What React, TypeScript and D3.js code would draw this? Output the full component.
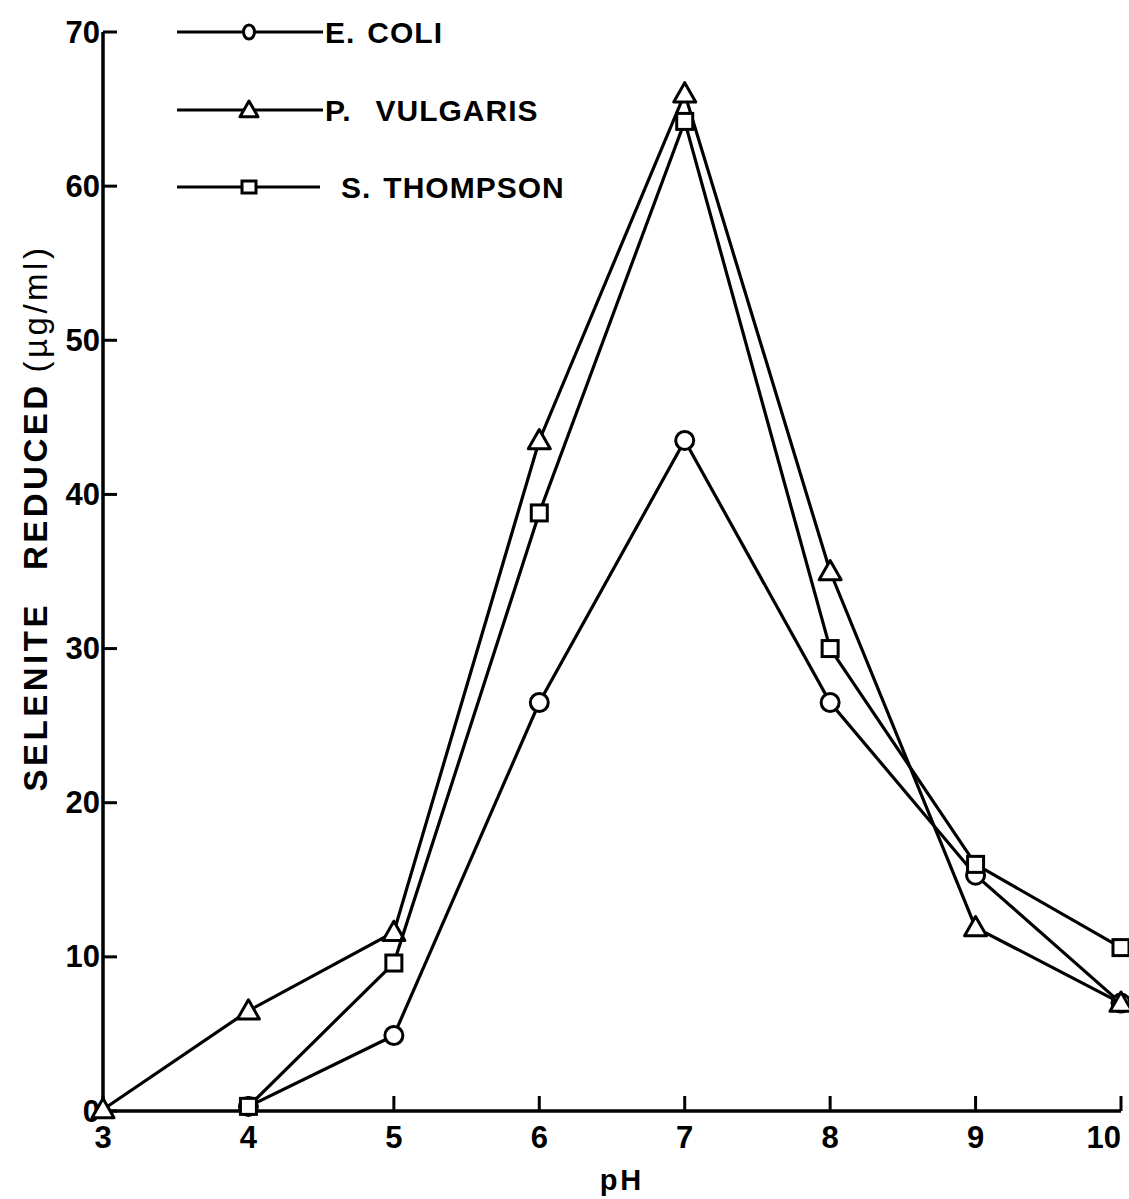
import React from "react";
import * as d3 from "d3";

const phEColi = [4, 5, 6, 7, 8, 9, 10];
const eColi = [0.3, 4.9, 26.5, 43.5, 26.5, 15.3, 7.0];
const phPVulgaris = [3, 4, 5, 6, 7, 8, 9, 10];
const pVulgaris = [0.1, 6.5, 11.6, 43.5, 66.0, 35.0, 11.9, 7.0];
const phSThompson = [4, 5, 6, 7, 8, 9, 10];
const sThompson = [0.3, 9.6, 38.8, 64.2, 30.0, 16.0, 10.6];
const xTicks = [3, 4, 5, 6, 7, 8, 9, 10];
const yTicks = [0, 10, 20, 30, 40, 50, 60, 70];
const seriesNames = [["E.", "COLI"], ["P.", "VULGARIS"], ["S.", "THOMPSON"]];

const W = 1129;
const H = 1199;
const FONT = "'Liberation Sans', Arial, sans-serif";

function Marker({ kind, x, y, small }: { kind: string; x: number; y: number; small?: boolean }) {
  const sw = 3;
  if (kind === "circle") {
    return small ? (
      <ellipse cx={x} cy={y} rx={5.5} ry={7} fill="white" stroke="black" strokeWidth={sw} />
    ) : (
      <circle cx={x} cy={y} r={9} fill="white" stroke="black" strokeWidth={sw} />
    );
  }
  if (kind === "triangle") {
    const s = small ? 9 : 11;
    const pts = `${x},${y - s} ${x - s},${y + s * 0.75} ${x + s},${y + s * 0.75}`;
    return <polygon points={pts} fill="white" stroke="black" strokeWidth={sw} strokeLinejoin="round" />;
  }
  const hw = small ? 7 : 8;
  const hh = small ? 6 : 8;
  return <rect x={x - hw} y={y - hh} width={hw * 2} height={hh * 2} fill="white" stroke="black" strokeWidth={sw} />;
}

export default function App() {
  const x = d3.scaleLinear().domain([3, 10]).range([103, 1121]);
  const y = d3.scaleLinear().domain([0, 70]).range([1111, 32]);
  const line = d3
    .line<[number, number]>()
    .x((d) => x(d[0]))
    .y((d) => y(d[1]));

  const series = [
    { kind: "circle", xs: phEColi, ys: eColi },
    { kind: "triangle", xs: phPVulgaris, ys: pVulgaris },
    { kind: "square", xs: phSThompson, ys: sThompson },
  ];

  const legendRows = [32, 110, 187];
  const legendTextX = [325, 325, 341];
  const legendWordGap = [12, 24, 12];
  const legendLineEnd = [323, 323, 320];

  return (
    <svg
      width={W}
      height={H}
      style={{ position: "absolute", left: 0, top: 0, background: "white" }}
      fontFamily={FONT}
    >
      <rect x={0} y={0} width={W} height={H} fill="white" />
      {/* axes */}
      <line x1={x(3)} y1={y(70)} x2={x(3)} y2={y(0)} stroke="black" strokeWidth={3.5} />
      <line x1={x(3)} y1={y(0)} x2={x(10)} y2={y(0)} stroke="black" strokeWidth={3.5} />
      {yTicks.map((t) => (
        <g key={"y" + t}>
          <line x1={x(3)} x2={x(3) + 14} y1={y(t)} y2={y(t)} stroke="black" strokeWidth={3} />
          <text
            x={x(3) - 3}
            y={y(t)}
            textAnchor="end"
            dominantBaseline="central"
            fontSize={31}
            fontWeight="bold"
          >
            {t}
          </text>
        </g>
      ))}
      {xTicks.map((t, i) => (
        <g key={"x" + t}>
          <line x1={x(t)} x2={x(t)} y1={y(0)} y2={y(0) - 15} stroke="black" strokeWidth={3} />
          <text
            x={x(t)}
            y={1148}
            textAnchor={i === xTicks.length - 1 ? "end" : "middle"}
            fontSize={31}
            fontWeight="bold"
          >
            {t}
          </text>
        </g>
      ))}
      <text x={622} y={1190} textAnchor="middle" fontSize={29} fontWeight="bold" letterSpacing={3}>
        pH
      </text>
      <text
        transform={`translate(47, 518) rotate(-90)`}
        textAnchor="middle"
        fontSize={33}
        fontWeight="bold"
        letterSpacing={3.5}
      >
        <tspan>SELENITE</tspan>
        <tspan dx={32}>REDUCED</tspan>
        <tspan dx={10} fontWeight="normal">
          (µg/ml)
        </tspan>
      </text>
      {/* series */}
      {series.map((s, i) => {
        const pts = s.xs.map((v, j) => [v, s.ys[j]] as [number, number]);
        return (
          <g key={"s" + i}>
            <path d={line(pts) || ""} fill="none" stroke="black" strokeWidth={3.2} />
            {pts.map((p, j) => (
              <Marker key={j} kind={s.kind} x={x(p[0])} y={y(p[1])} />
            ))}
          </g>
        );
      })}
      {/* legend */}
      {series.map((s, i) => (
        <g key={"l" + i}>
          <line x1={177} x2={legendLineEnd[i]} y1={legendRows[i]} y2={legendRows[i]} stroke="black" strokeWidth={3} />
          <Marker kind={s.kind} x={249} y={legendRows[i]} small />
          <text
            x={legendTextX[i]}
            y={legendRows[i]}
            dominantBaseline="central"
            fontSize={30}
            fontWeight="bold"
            letterSpacing={1}
          >
            <tspan>{seriesNames[i][0]}</tspan>
            <tspan dx={legendWordGap[i]}>{seriesNames[i][1]}</tspan>
          </text>
        </g>
      ))}
    </svg>
  );
}
